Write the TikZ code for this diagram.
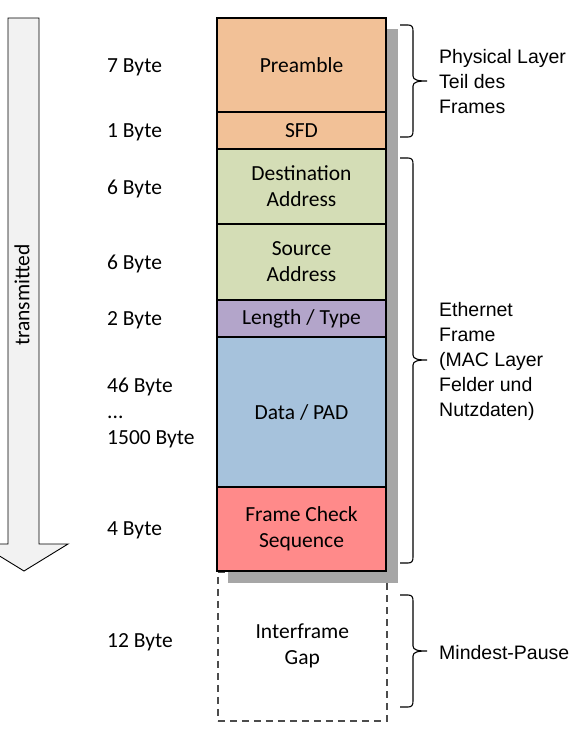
\documentclass[tikz,border=0pt]{standalone}
\usepackage{fontspec}
\setmainfont{Carlito}
\newfontfamily\arialf{Liberation Sans}
\definecolor{preC}{HTML}{F2C197}
\definecolor{grnC}{HTML}{D4DDB6}
\definecolor{purC}{HTML}{B3A5CA}
\definecolor{bluC}{HTML}{A6C2DC}
\definecolor{redC}{HTML}{FF8A8A}
\definecolor{shadC}{HTML}{A6A6A6}
\definecolor{arrC}{HTML}{F2F2F2}
\begin{document}
\begin{tikzpicture}[x=1pt,y=-1pt,
  field/.style={draw=black,line width=2.4pt,minimum width=169pt,inner sep=0pt,outer sep=0pt,anchor=north west,font=\fontsize{21.5}{26}\selectfont,align=center},
  bytelbl/.style={anchor=west,inner sep=0pt,font=\fontsize{21.5}{26}\selectfont,align=left},
  sidelbl/.style={anchor=west,inner sep=0pt,font=\arialf\fontsize{19.5}{25}\selectfont,align=left},
  bracec/.style={line width=1.1pt}]
\useasboundingbox (0,0) rectangle (586,742);
\clip (0,0) rectangle (586,742);
% arrow
\draw[fill=arrC,line width=0.9pt] (8,18) -- (39,18) -- (39,544) -- (68,544) -- (24,571) -- (-20,544) -- (8,544) -- cycle;
\node[rotate=90,inner sep=0pt,font=\fontsize{21.5}{26}\selectfont] (tx) at (22,295) {transmitted};
% interframe gap
\node[draw=black!70,line width=1.6pt,dash pattern=on 7pt off 5pt,minimum width=169pt,minimum height=149pt,anchor=north west,inner sep=0pt,align=center,font=\fontsize{21.5}{26}\selectfont] (ifg) at (217,571) {Interframe\\Gap};
% shadow
\fill[shadC] (228,29) rectangle (398,583);
% fields
\node[field,fill=preC,minimum height=94pt] (pre) at (217,18) {Preamble};
\node[field,fill=preC,minimum height=37pt] (sfd) at (217,112) {SFD};
\node[field,fill=grnC,minimum height=75pt] (dst) at (217,149) {Destination\\Address};
\node[field,fill=grnC,minimum height=76pt] (src) at (217,224) {Source\\Address};
\node[field,fill=purC,minimum height=37pt] (len) at (217,300) {Length / Type};
\node[field,fill=bluC,minimum height=150pt] (dat) at (217,337) {Data / PAD};
\node[field,fill=redC,minimum height=84pt] (fcs) at (217,487) {Frame Check\\Sequence};
% byte labels
\node[bytelbl] (b1) at (107,67) {7 Byte};
\node[bytelbl] (b2) at (107,132) {1 Byte};
\node[bytelbl] (b3) at (107,189) {6 Byte};
\node[bytelbl] (b4) at (107,264) {6 Byte};
\node[bytelbl] (b5) at (107,320) {2 Byte};
\node[bytelbl] (b6) at (107,413) {46 Byte\\...\\1500 Byte};
\node[bytelbl] (b7) at (107,530) {4 Byte};
\node[bytelbl] (b8) at (107,642) {12 Byte};
% braces
\coordinate (t1) at (427,81);
\draw[bracec] (400,25) -- (408,25) .. controls (412,25) and (413,27) .. (413,31) -- (413,76) .. controls (413,80) and (418,81) .. (t1) .. controls (418,81) and (413,82) .. (413,86) -- (413,131) .. controls (413,135) and (412,137) .. (408,137) -- (400,137);
\coordinate (t2) at (427,360);
\draw[bracec] (400,158) -- (408,158) .. controls (412,158) and (413,160) .. (413,164) -- (413,355) .. controls (413,359) and (418,360) .. (t2) .. controls (418,360) and (413,361) .. (413,365) -- (413,557) .. controls (413,561) and (412,563) .. (408,563) -- (400,563);
\coordinate (t3) at (427,651);
\draw[bracec] (400,595) -- (408,595) .. controls (412,595) and (413,597) .. (413,601) -- (413,646) .. controls (413,650) and (418,651) .. (t3) .. controls (418,651) and (413,652) .. (413,656) -- (413,701) .. controls (413,705) and (412,707) .. (408,707) -- (400,707);
% side labels
\node[sidelbl] (s1) at (439,82) {Physical Layer\\Teil des\\Frames};
\node[sidelbl] (s2) at (439,361) {Ethernet\\Frame\\(MAC Layer\\Felder und\\Nutzdaten)};
\node[sidelbl] (s3) at (439,653) {Mindest-Pause};
\end{tikzpicture}
\end{document}
